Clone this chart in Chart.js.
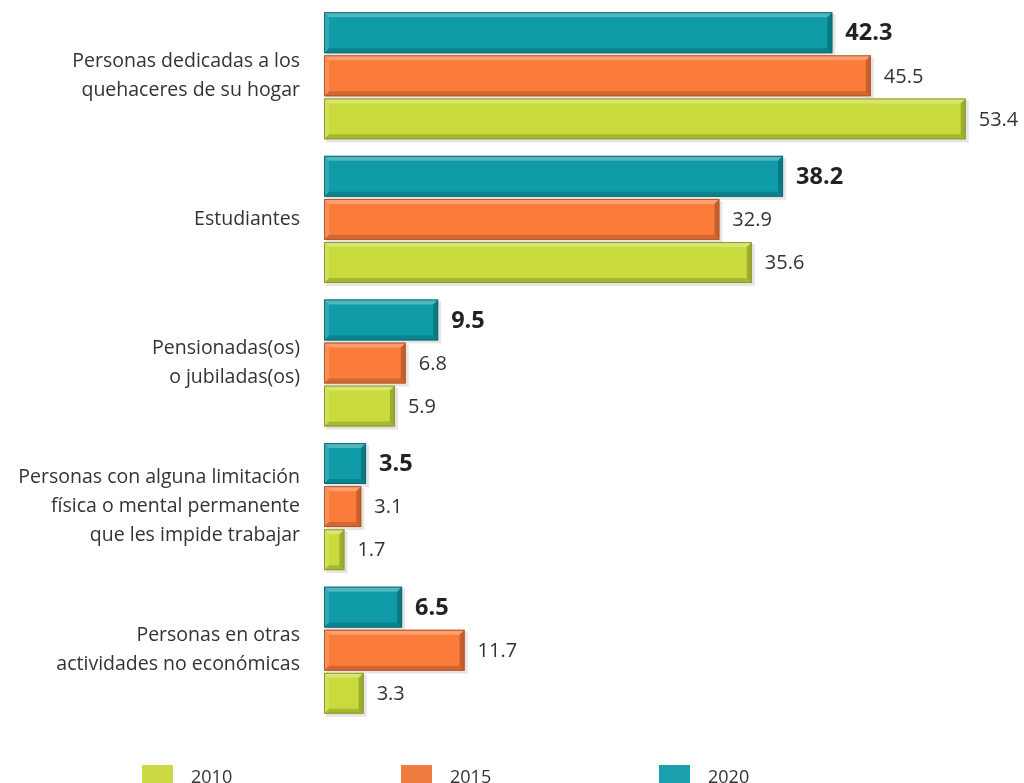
<!DOCTYPE html>
<html>
<head>
<meta charset="utf-8">
<script src="https://cdn.jsdelivr.net/npm/chart.js@4"></script>
<style>
  html, body { margin: 0; padding: 0; background: #fff; overflow: hidden; }
  #wrap { position: relative; width: 1024px; height: 783px; }
  .leg { position: absolute; top: 764px; font: 18px "Open Sans", sans-serif; color: #333; }
  .leg span.box { position: absolute; left: 0; top: 1px; width: 31px; height: 24px; }
  .leg span.txt { position: absolute; left: 49px; top: 0; white-space: nowrap; }
</style>
</head>
<body>
<div id="wrap">
  <canvas id="chart" width="1024" height="783"></canvas>
  <div id="legend"></div>
</div>
<script>
const categories = [
  ['Personas dedicadas a los', 'quehaceres de su hogar'],
  'Estudiantes',
  ['Pensionadas(os)', 'o jubiladas(os)'],
  ['Personas con alguna limitación', 'física o mental permanente', 'que les impide trabajar'],
  ['Personas en otras', 'actividades no económicas']
];
const years = ['2020', '2015', '2010'];
const values2020 = [42.3, 38.2, 9.5, 3.5, 6.5];
const values2015 = [45.5, 32.9, 6.8, 3.1, 11.7];
const values2010 = [53.4, 35.6, 5.9, 1.7, 3.3];

const fills = ['#0f9ba7', '#fb7c3a', '#c9db3c'];
const edges = ['#0b6d76', '#b4552a', '#8f9a2a'];
const legendColors = { '2010': '#ccda45', '2015': '#f07c40', '2020': '#1aa0ac' };

// bevelled look: light top/left, dark bottom/right
const bevel = {
  id: 'bevel',
  beforeDatasetsDraw(chart) {
    const ctx = chart.ctx;
    ctx.save();
    ctx.fillStyle = 'rgba(0,0,0,0.10)';
    chart.data.datasets.forEach((ds, i) => {
      chart.getDatasetMeta(i).data.forEach(bar => {
        const x0 = bar.base, x1 = bar.x, y0 = bar.y - bar.height / 2, y1 = bar.y + bar.height / 2;
        ctx.fillRect(x0 + 2, y0 + 2, x1 - x0 + 1, y1 - y0 + 1);
      });
    });
    ctx.restore();
  },
  afterDatasetsDraw(chart) {
    const ctx = chart.ctx;
    ctx.save();
    chart.data.datasets.forEach((ds, i) => {
      chart.getDatasetMeta(i).data.forEach((bar, j) => {
        const x0 = bar.base, x1 = bar.x, y0 = bar.y - bar.height / 2, y1 = bar.y + bar.height / 2;
        const b = Math.min(5, (x1 - x0) / 2);
        const poly = (pts, c) => {
          ctx.beginPath();
          ctx.moveTo(pts[0][0], pts[0][1]);
          pts.slice(1).forEach(p => ctx.lineTo(p[0], p[1]));
          ctx.closePath();
          ctx.fillStyle = c;
          ctx.fill();
        };
        poly([[x0, y0], [x1, y0], [x1 - b, y0 + b], [x0 + b, y0 + b]], 'rgba(255,255,255,0.28)');
        poly([[x0, y0], [x0 + b, y0 + b], [x0 + b, y1 - b], [x0, y1]], 'rgba(255,255,255,0.14)');
        poly([[x0, y1], [x0 + b, y1 - b], [x1 - b, y1 - b], [x1, y1]], 'rgba(0,0,0,0.16)');
        poly([[x1, y0], [x1, y1], [x1 - b, y1 - b], [x1 - b, y0 + b]], 'rgba(0,0,0,0.22)');
        ctx.strokeStyle = edges[i];
        ctx.lineWidth = 1;
        ctx.strokeRect(x0 + 0.5, y0 + 0.5, x1 - x0 - 1, y1 - y0 - 1);

        // value label
        const bold = ds.label === '2020';
        ctx.font = bold ? 'bold 23.5px "Open Sans", sans-serif' : '20px "Open Sans", sans-serif';
        ctx.fillStyle = bold ? '#222' : '#333';
        ctx.textAlign = 'left';
        ctx.textBaseline = 'middle';
        ctx.fillText(ds.data[j].toFixed(1), x1 + 13, bar.y + 1);
      });
    });
    ctx.restore();
  }
};

const ctx = document.getElementById('chart');
new Chart(ctx, {
  type: 'bar',
  data: {
    labels: categories,
    datasets: [values2020, values2015, values2010].map((v, i) => ({
      label: years[i],
      data: v,
      backgroundColor: fills[i],
      borderWidth: 0,
      categoryPercentage: 0.9,
      barPercentage: 0.95
    }))
  },
  options: {
    indexAxis: 'y',
    responsive: false,
    animation: false,
    layout: { padding: { top: 4, bottom: 61, right: 3, left: 0 } },
    scales: {
      x: { display: false, min: 0, max: 58 },
      y: {
        grid: { display: false, drawTicks: false },
        border: { display: false },
        ticks: {
          color: '#333',
          padding: 24,
          font: { family: '"Open Sans", sans-serif', size: 19.5, lineHeight: 1.5 }
        },
        afterFit(scale) {
          scale.width = 324;
          scale.paddingTop = 0;
          scale.paddingBottom = 0;
        }
      }
    },
    plugins: {
      legend: { display: false },
      tooltip: { enabled: false }
    }
  },
  plugins: [bevel]
});

// legend row along the bottom
const legend = document.getElementById('legend');
[['2010', 142], ['2015', 401], ['2020', 659]].forEach(([y, left]) => {
  const d = document.createElement('div');
  d.className = 'leg';
  d.style.left = left + 'px';
  d.innerHTML = '<span class="box" style="background:' + legendColors[y] + '"></span><span class="txt">' + y + '</span>';
  legend.appendChild(d);
});
</script>
</body>
</html>
